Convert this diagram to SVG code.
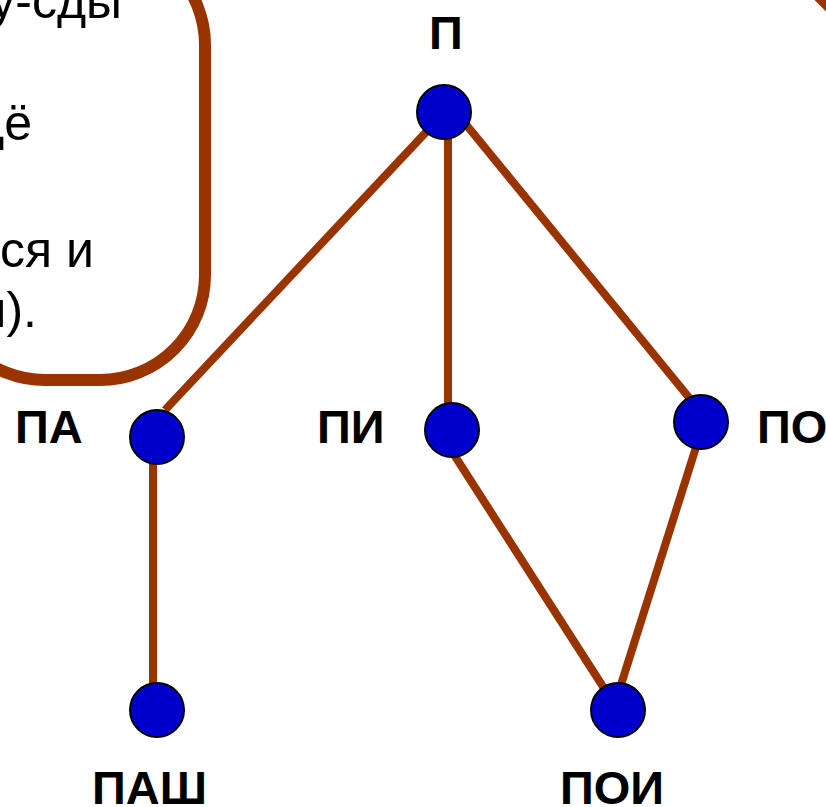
<svg xmlns="http://www.w3.org/2000/svg" width="826" height="807" viewBox="0 0 826 807">
<style>
.frame{fill:none;stroke:#993300;stroke-width:12}
.edge{stroke:#993300;stroke-width:8;fill:none}
.node{fill:#0000CC;stroke:#000;stroke-width:2}
.lbl{font-family:"Liberation Sans",Arial,sans-serif;font-weight:bold;font-size:47px;fill:#000}
.txt{font-family:"Liberation Sans",Arial,sans-serif;font-size:50px;fill:#000}
</style>
<rect width="826" height="807" fill="#fff"/>
<g id="textbox">
<rect class="frame" x="-60" y="-60" width="265" height="440" rx="105" ry="105"/>
<text class="txt" x="122" y="18" text-anchor="end">у-сды</text>
<text class="txt" x="32" y="140" text-anchor="end">дё</text>
<text class="txt" x="94" y="267" text-anchor="end">ся и</text>
<text class="txt" x="37" y="327" text-anchor="end">н).</text>
</g>
<g id="corner">
<line class="frame" x1="812" y1="-11" x2="842" y2="19"/>
</g>
<g id="connectors">
<line class="edge" x1="445" y1="112" x2="165" y2="410"/>
<line class="edge" x1="448" y1="111" x2="448" y2="430"/>
<line class="edge" x1="455" y1="111" x2="709" y2="422"/>
<line class="edge" x1="153" y1="437" x2="153" y2="710"/>
<line class="edge" x1="451" y1="450" x2="618" y2="710"/>
<line class="edge" x1="704" y1="422" x2="613" y2="710"/>
</g>
<g id="node-P"><circle class="node" cx="444" cy="112" r="27"/><text class="lbl" x="446" y="49" text-anchor="middle">П</text></g>
<g id="node-PA"><circle class="node" cx="157" cy="437" r="27"/><text class="lbl" x="15" y="443">ПА</text></g>
<g id="node-PI"><circle class="node" cx="452" cy="430" r="27"/><text class="lbl" x="317" y="443">ПИ</text></g>
<g id="node-PO"><circle class="node" cx="701" cy="422" r="27"/><text class="lbl" x="757" y="443">ПО</text></g>
<g id="node-PASH"><circle class="node" cx="157" cy="710" r="27"/><text class="lbl" x="92" y="804">ПАШ</text></g>
<g id="node-POI"><circle class="node" cx="618" cy="710" r="27"/><text class="lbl" x="560" y="804">ПОИ</text></g>
</svg>
